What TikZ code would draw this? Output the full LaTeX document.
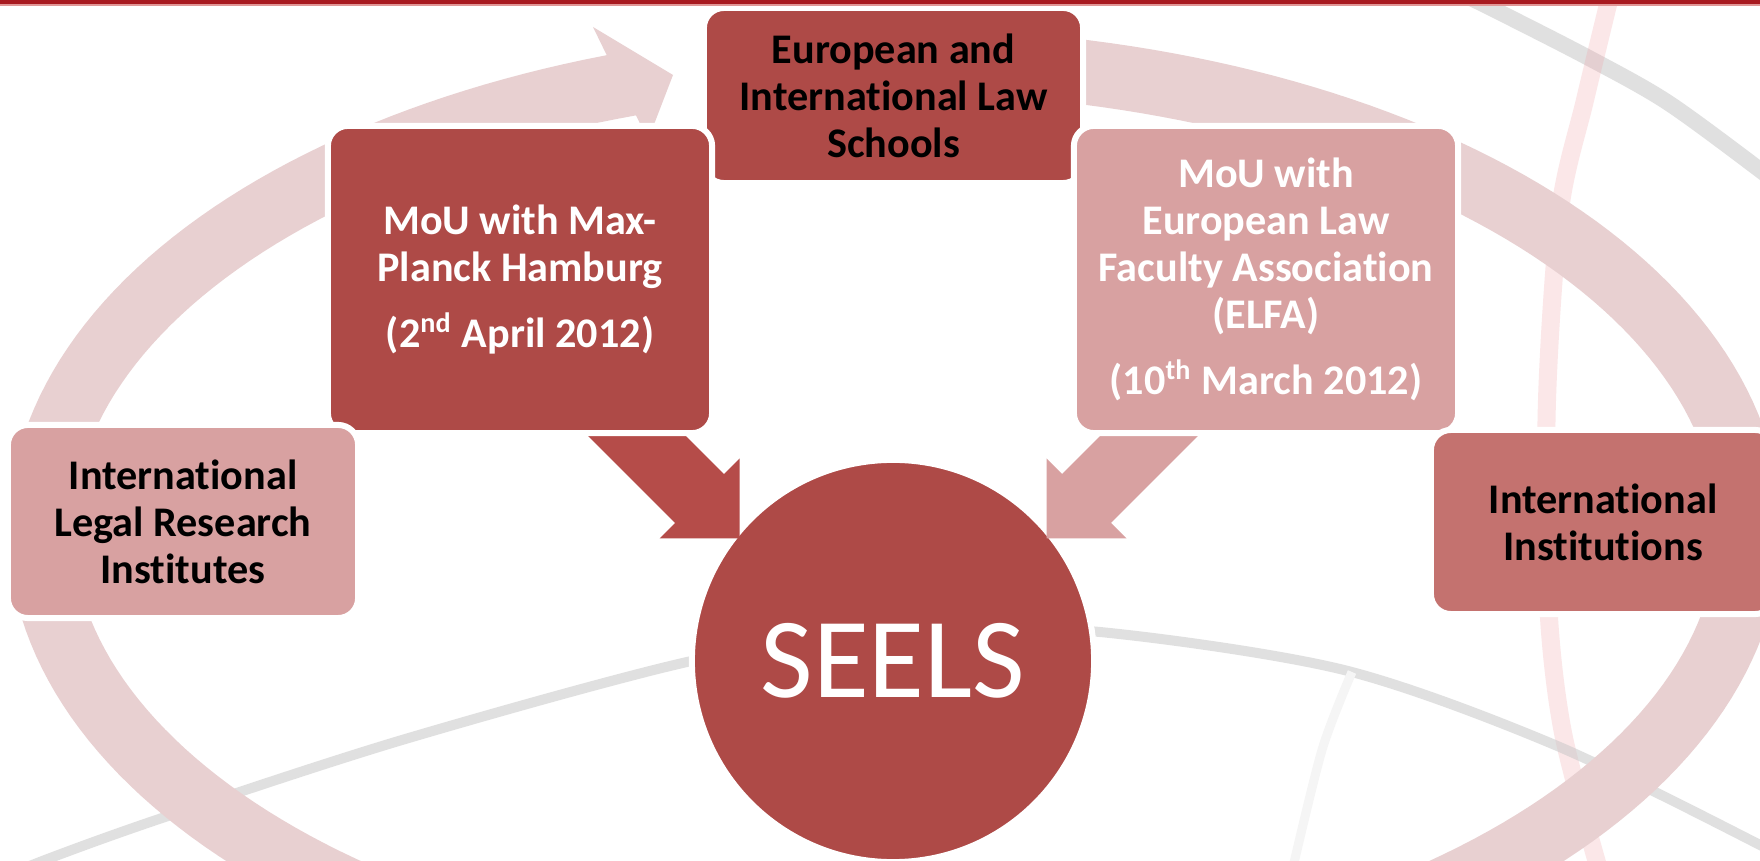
\documentclass[tikz,border=0pt]{standalone}
\usepackage{fontspec}
\setmainfont{Carlito}[Ligatures=NoCommon]
\usetikzlibrary{calc}
\definecolor{darkbox}{RGB}{174,74,71}
\definecolor{lightbox}{RGB}{216,161,161}
\definecolor{midbox}{RGB}{196,114,111}
\definecolor{ringc}{RGB}{232,208,209}
\definecolor{arrowdark}{RGB}{181,76,73}
\definecolor{swooshc}{RGB}{200,200,200}
\definecolor{pinkc}{RGB}{240,160,165}
\definecolor{faintc}{RGB}{245,245,245}
\definecolor{topbar}{RGB}{168,26,32}
\definecolor{topbarlight}{RGB}{225,150,150}
\begin{document}
\begin{tikzpicture}[x=0.01cm,y=-0.01cm,
  box/.style={rectangle, rounded corners=0.2cm, draw=white, line width=0.06cm,
    inner sep=0pt, outer sep=0pt, align=center,
    font=\fontsize{12}{13.4}\selectfont\bfseries},
  swooshline/.style={draw=swooshc, opacity=0.55, line cap=round},
  pinkline/.style={draw=pinkc, opacity=0.25},
  faintline/.style={draw=faintc},
  ringband/.style={draw=ringc, line width=0.645cm},
  blockdark/.style={fill=arrowdark},
  blocklight/.style={fill=lightbox}]
\useasboundingbox (0,0) rectangle (1760,861);
\clip (0,0) rectangle (1760,861);
\fill[white] (0,0) rectangle (1760,861);

% background template lines
\draw[swooshline, line width=0.16cm] plot[smooth] coordinates {(1450,-12) (1495,10) (1587,57) (1667,102) (1760,170) (1800,202)};
\draw[pinkline, line width=0.18cm] plot[smooth] coordinates {(1614,-20) (1585,100) (1560,210) (1547,400) (1548,600) (1563,733) (1602,880)};
\draw[swooshline, line width=0.1cm] plot[smooth] coordinates {(-40,895) (45,860) (165,817) (402,740) (687,662) (900,627) (1100,632) (1344,670) (1555,745) (1760,845) (1810,875)};
\draw[faintline, line width=0.09cm] plot[smooth] coordinates {(1352,672) (1322,750) (1290,880)};

% big circular arrow
\draw[ringband] plot[domain=90:-252, samples=240, variable=\t] ({895+854.5*cos(\t)},{530-469.5*sin(\t)});
\fill[ringc] (593,27) -- (673,75) -- (648,140) -- cycle;

% nodes
\node[box, fill=darkbox, text=black, minimum width=3.79cm, minimum height=1.75cm] (schools) at (893.5,95.5) {European and\\International Law\\Schools};
\node[circle, draw=white, line width=0.06cm, fill=darkbox, minimum size=4.02cm, inner sep=0pt, text=white, font=\fontsize{32.5}{36}\selectfont] (seels) at (893,661) {SEELS};

% block arrows into SEELS
\coordinate (t1) at ($(seels.center)+(-153.5,-122.5)$);
\coordinate (t2) at ($(seels.center)+(153.5,-122.5)$);
\fill[blockdark] ($(t1)+(-166.8,-118)$) -- ($(t1)+(-69.2,-118)$) -- ($(t1)+(-15.6,-64.4)$) -- ($(t1)+(0,-80)$) -- (t1) -- ($(t1)+(-80,0)$) -- ($(t1)+(-64.4,-15.6)$) -- cycle;
\fill[blocklight] ($(t2)+(166.8,-118)$) -- ($(t2)+(69.2,-118)$) -- ($(t2)+(15.6,-64.4)$) -- ($(t2)+(0,-80)$) -- (t2) -- ($(t2)+(80,0)$) -- ($(t2)+(64.4,-15.6)$) -- cycle;

\node[box, fill=darkbox, text=white, minimum width=3.84cm, minimum height=3.07cm] (mp) at (520,279.5) {MoU with Max-\\Planck Hamburg\\[5.4pt](2\textsuperscript{nd} April 2012)};
\node[box, fill=lightbox, text=white, minimum width=3.84cm, minimum height=3.07cm] (elfa) at (1266,279.5) {MoU with\\European Law\\Faculty Association\\(ELFA)\\[5.4pt](10\textsuperscript{th} March 2012)};
\node[box, fill=lightbox, text=black, minimum width=3.5cm, minimum height=1.93cm] (research) at (183,521.5) {International\\Legal Research\\Institutes};
\node[box, fill=midbox, text=black, minimum width=3.44cm, minimum height=1.84cm] (institutions) at (1603,522) {International\\Institutions};

% top bar
\fill[topbar] (0,0) rectangle (1760,4.5);
\fill[topbarlight] (0,4.5) rectangle (1760,6);
\end{tikzpicture}
\end{document}
